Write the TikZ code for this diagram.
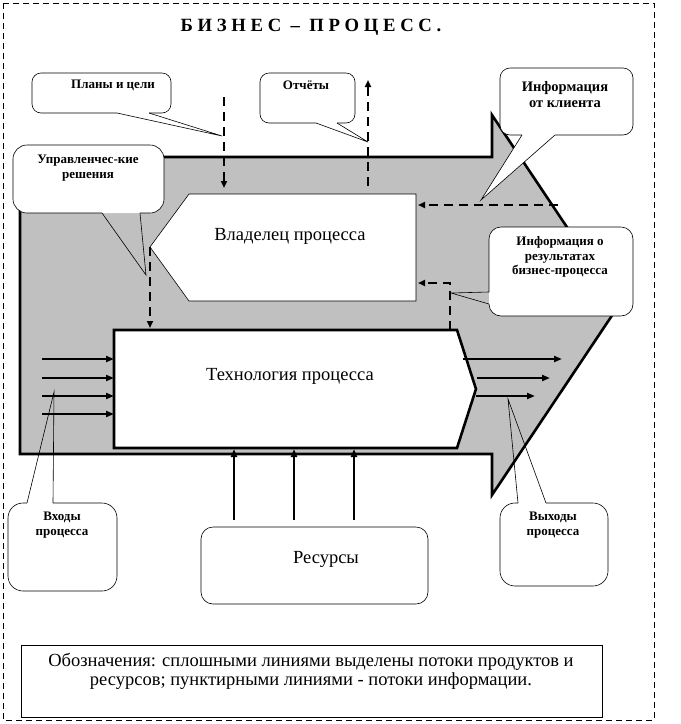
\documentclass[tikz,border=0pt]{standalone}
\usepackage{fontspec}
\setmainfont{Liberation Serif}
\usepackage{tikz}
\usetikzlibrary{arrows.meta}
\definecolor{arrowgray}{RGB}{192,192,192}

\tikzset{
  outerframe/.style={line width=0.6pt,dash pattern=on 6pt off 4pt},
  infoflow/.style={line width=2.4pt,dash pattern=on 9pt off 6pt,-{Triangle[length=7pt,width=6pt]}},
  prodflow/.style={line width=2.4pt,-{Triangle[length=8pt,width=6pt]}},
  bubble/.style={line width=0.6pt},
  boxtext/.style={font=\fontsize{18.5}{19}\selectfont,inner sep=0pt,align=center},
  calltext/.style={font=\fontsize{13}{14.5}\selectfont\bfseries,inner sep=0pt,align=center}
}

\begin{document}
\begin{tikzpicture}[x=1pt,y=-1pt]
    \useasboundingbox (0,0) rectangle (681,724);
    \draw[outerframe] (3,3) rectangle (654,720);
    \node[font=\fontsize{18.7}{20}\selectfont\bfseries,inner sep=0pt] (title) at (311,27) {Б И З Н Е С \ – \ П Р О Ц Е С С .};

    \draw[fill=arrowgray,line width=2.6pt] (20,157) -- (492,157) -- (492,115) -- (619,305) -- (492,495) -- (492,454) -- (20,454) -- cycle;

    \draw[fill=white,line width=0.6pt] (189,194) -- (416,194) -- (416,301) -- (189,301) -- (150,247) -- cycle;
    \node[boxtext] (owner) at (290,236) {Владелец процесса};
    \draw[fill=white,line width=2.6pt] (114,330) -- (457,330) -- (476,389) -- (457,448) -- (114,448) -- cycle;
    \node[boxtext] (tech) at (290,376) {Технология процесса};

    \coordinate (plansrc) at (224,97);
    \coordinate (ownertop) at (224,188);
    \coordinate (ownerout) at (368,186);
    \coordinate (reportend) at (368,80);
    \coordinate (clientsrc) at (558,205);
    \coordinate (ownerright) at (418,205);
    \coordinate (techtopr) at (450,330);
    \coordinate (ownerlow) at (418,283);
    \coordinate (ownertip) at (150,247);
    \coordinate (techtop) at (150,328);
    \coordinate (techwest) at (114,389);
    \coordinate (techsouth) at (294,449);

    \draw[infoflow] (plansrc) -- (ownertop);
    \draw[infoflow] (ownerout) -- (reportend);
    \draw[infoflow] (clientsrc) -- (ownerright);
    \draw[infoflow] (techtopr) |- (ownerlow);
    \draw[infoflow] (ownertip) -- (techtop);

    \foreach \y [count=\i] in {359,378,396,414} {
        \coordinate (in\i) at (42,\y);
        \draw[prodflow] (in\i) -- (in\i -| techwest);
    }
    \foreach \xs/\xe/\y [count=\i] in {463/562/359,477/550/378,476/535/396} {
        \coordinate (outa\i) at (\xs,\y);
        \coordinate (outb\i) at (\xe,\y);
        \draw[prodflow] (outa\i) -- (outb\i);
    }
    \foreach \x [count=\i] in {234,294,354} {
        \coordinate (rs\i) at (\x,520);
        \draw[prodflow] (rs\i) -- (rs\i |- techsouth);
    }

    \fill[white,rounded corners=9pt] (32,73) rectangle (171,113);
    \draw[bubble,rounded corners=9pt] (149,113) -- (171,113) -- (171,73) -- (32,73) -- (32,113) -- (117,113);
    \draw[bubble] (117,113) -- (222,136) -- (149,113);
    \node[calltext] (plans) at (113,85) {Планы и цели};

    \fill[white,rounded corners=9pt] (260,73) rectangle (355,123);
    \draw[bubble,rounded corners=9pt] (337,123) -- (355,123) -- (355,73) -- (260,73) -- (260,123) -- (316,123);
    \draw[bubble] (316,123) -- (368,142) -- (337,123);
    \node[calltext] (reports) at (306,85) {Отчёты};

    \fill[white,rounded corners=10pt] (500,68) rectangle (633,135);
    \fill[white] (522,135) -- (481,200) -- (555,135) -- cycle;
    \draw[bubble,rounded corners=10pt] (555,135) -- (633,135) -- (633,68) -- (500,68) -- (500,135) -- (522,135);
    \draw[bubble] (522,135) -- (481,200) -- (555,135);
    \node[calltext,font=\fontsize{14.5}{16}\selectfont\bfseries] (client) at (565,95) {Информация\\от клиента};

    \fill[white,rounded corners=14pt] (13,145) rectangle (164,213);
    \draw[bubble,rounded corners=14pt] (140,213) -- (164,213) -- (164,145) -- (13,145) -- (13,213) -- (102,213);
    \draw[bubble] (102,213) -- (146,275) -- (140,213);
    \node[calltext] (decisions) at (88,168) {Управленчес-кие\\решения};

    \fill[white,rounded corners=12pt] (489,227) rectangle (633,316);
    \draw[bubble,rounded corners=12pt] (489,292) -- (489,227) -- (633,227) -- (633,316) -- (489,316) -- (489,304);
    \draw[bubble] (489,292) -- (451,293) -- (489,304);
    \node[calltext] (results) at (560,257) {Информация о\\результатах\\бизнес-процесса};

    \fill[white,rounded corners=15pt] (8,503) rectangle (117,591);
    \draw[bubble,rounded corners=15pt] (53,503) -- (117,503) -- (117,591) -- (8,591) -- (8,503) -- (27,503);
    \draw[bubble] (27,503) -- (54,392) -- (53,503);
    \node[calltext] (inputs) at (62,525) {Входы\\процесса};

    \fill[white,rounded corners=15pt] (500,503) rectangle (608,586);
    \draw[bubble,rounded corners=15pt] (546,503) -- (608,503) -- (608,586) -- (500,586) -- (500,503) -- (518,503);
    \draw[bubble] (518,503) -- (508,399) -- (546,503);
    \node[calltext] (outputs) at (553,525) {Выходы\\процесса};

    \draw[bubble,fill=white,rounded corners=12pt] (201,527) rectangle (428,604);
    \node[boxtext] (resources) at (326,559) {Ресурсы};

    \draw[bubble] (21,645) rectangle (602,717);
    \node[boxtext] (legend) at (311,671) {Обозначения: сплошными линиями выделены потоки продуктов и\\ресурсов; пунктирными линиями - потоки информации.};
\end{tikzpicture}
\end{document}
